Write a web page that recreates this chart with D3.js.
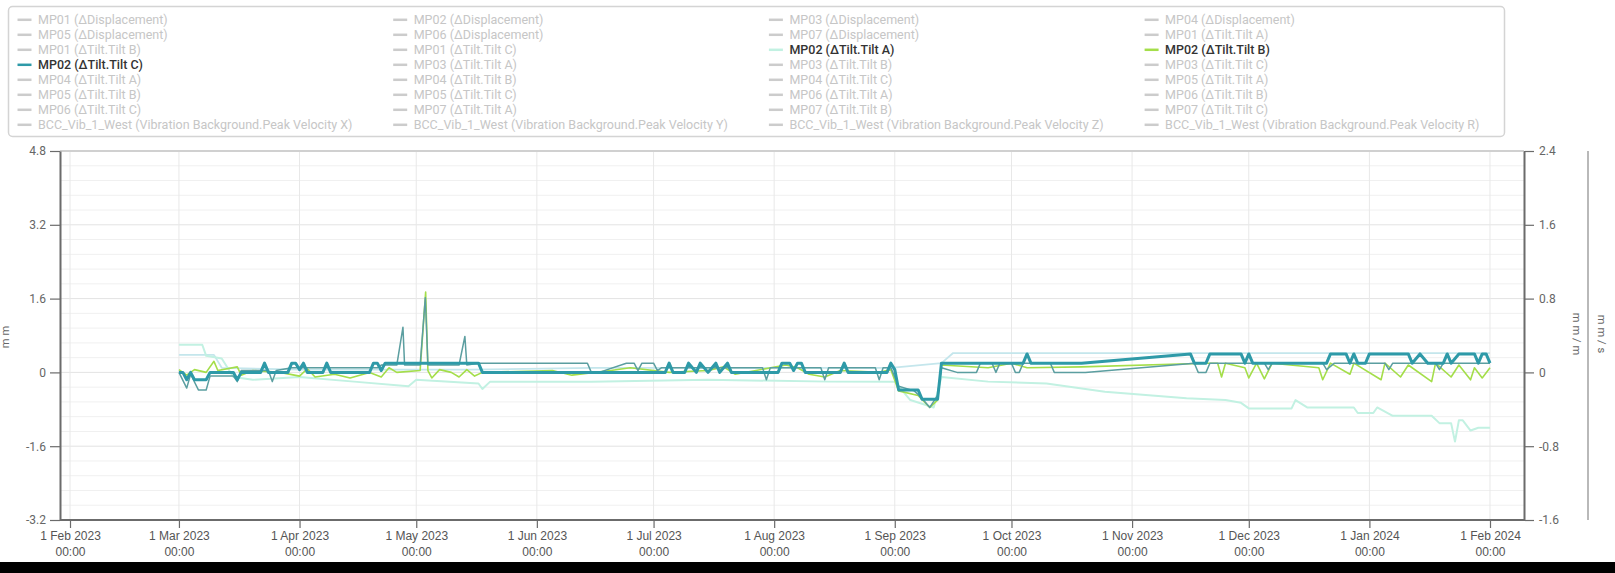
<!DOCTYPE html>
<html><head><meta charset="utf-8">
<script src="https://cdn.jsdelivr.net/npm/d3@7"></script>
<style>body{margin:0;background:#fff;} svg{display:block;font-family:Roboto, "Noto Sans", sans-serif;}</style>
</head><body><svg id="c" width="1615" height="573"></svg>
<script>
// ---------- DATA ----------
const legendItems = [
 "MP01 (ΔDisplacement)","MP02 (ΔDisplacement)","MP03 (ΔDisplacement)","MP04 (ΔDisplacement)",
 "MP05 (ΔDisplacement)","MP06 (ΔDisplacement)","MP07 (ΔDisplacement)","MP01 (ΔTilt.Tilt A)",
 "MP01 (ΔTilt.Tilt B)","MP01 (ΔTilt.Tilt C)","MP02 (ΔTilt.Tilt A)","MP02 (ΔTilt.Tilt B)",
 "MP02 (ΔTilt.Tilt C)","MP03 (ΔTilt.Tilt A)","MP03 (ΔTilt.Tilt B)","MP03 (ΔTilt.Tilt C)",
 "MP04 (ΔTilt.Tilt A)","MP04 (ΔTilt.Tilt B)","MP04 (ΔTilt.Tilt C)","MP05 (ΔTilt.Tilt A)",
 "MP05 (ΔTilt.Tilt B)","MP05 (ΔTilt.Tilt C)","MP06 (ΔTilt.Tilt A)","MP06 (ΔTilt.Tilt B)",
 "MP06 (ΔTilt.Tilt C)","MP07 (ΔTilt.Tilt A)","MP07 (ΔTilt.Tilt B)","MP07 (ΔTilt.Tilt C)",
 "BCC_Vib_1_West (Vibration Background.Peak Velocity X)","BCC_Vib_1_West (Vibration Background.Peak Velocity Y)",
 "BCC_Vib_1_West (Vibration Background.Peak Velocity Z)","BCC_Vib_1_West (Vibration Background.Peak Velocity R)"
];
const activeItems = {"MP02 (ΔTilt.Tilt A)":"#c2f1e2","MP02 (ΔTilt.Tilt B)":"#a4de4a","MP02 (ΔTilt.Tilt C)":"#2e9aa8"};

const leftTicks = [-3.2,-1.6,0,1.6,3.2,4.8];
const rightTicks = [-1.6,-0.8,0,0.8,1.6,2.4];
const monthTicks = ["2023-02-01","2023-03-01","2023-04-01","2023-05-01","2023-06-01","2023-07-01","2023-08-01",
 "2023-09-01","2023-10-01","2023-11-01","2023-12-01","2024-01-01","2024-02-01"];
const monthNames = ["Jan","Feb","Mar","Apr","May","Jun","Jul","Aug","Sep","Oct","Nov","Dec"];

// MP02 Tilt A (mm/m)
const tiltA = [
 ["2023-03-01",0.3],["2023-03-07",0.3],["2023-03-08",0.18],["2023-03-12",0.15],["2023-03-15",-0.05],["2023-03-20",-0.08],
 ["2023-04-01",-0.05],["2023-04-15",-0.1],["2023-04-29",-0.15],["2023-05-01",-0.08],["2023-05-17",-0.12],["2023-05-18",-0.18],
 ["2023-05-20",-0.1],["2023-06-15",-0.1],["2023-07-15",-0.08],["2023-08-15",-0.1],["2023-09-01",-0.1],["2023-09-05",-0.3],
 ["2023-09-11",-0.38],["2023-09-13",-0.05],["2023-09-25",-0.1],["2023-10-10",-0.12],["2023-10-25",-0.21],["2023-11-15",-0.28],
 ["2023-11-25",-0.3],["2023-11-29",-0.33],["2023-12-01",-0.39],["2023-12-12",-0.39],["2023-12-13",-0.3],["2023-12-16",-0.38],
 ["2023-12-28",-0.38],["2023-12-29",-0.44],["2024-01-02",-0.44],["2024-01-03",-0.38],["2024-01-07",-0.47],["2024-01-17",-0.47],
 ["2024-01-19",-0.55],["2024-01-22",-0.55],["2024-01-23",-0.75],["2024-01-24",-0.52],["2024-01-25",-0.52],["2024-01-27",-0.63],
 ["2024-01-29",-0.6],["2024-02-01",-0.6]
];
// secondary pale trace
const tiltAUpper = [
 ["2023-03-01",0.19],["2023-03-10",0.19],["2023-03-12",0.05],["2023-04-01",0.03],["2023-05-15",0.03],["2023-06-15",0.05],
 ["2023-08-31",0.05],["2023-09-13",0.1],["2023-09-16",0.21],["2024-02-01",0.21]
];
// MP02 Tilt B (mm/m)
const tiltB = [
 ["2023-03-01",0.03],["2023-03-03",-0.03],["2023-03-05",0.03],["2023-03-08",0],["2023-03-10",0.12],["2023-03-11",0.02],
 ["2023-03-16",0.06],["2023-03-17",-0.03],["2023-03-20",0.02],["2023-03-27",0],["2023-04-01",-0.04],["2023-04-03",0.04],
 ["2023-04-05",-0.05],["2023-04-10",-0.02],["2023-04-14",-0.06],["2023-04-19",0],["2023-04-22",-0.05],["2023-04-24",0.05],
 ["2023-04-26",0],["2023-05-02",0.02],["2023-05-03T10",0.87],["2023-05-04",0.02],["2023-05-05",-0.06],["2023-05-07",0.03],
 ["2023-05-10",0],["2023-05-12",-0.05],["2023-05-14",0.03],["2023-05-16",-0.04],["2023-05-18",0],["2023-06-05",0.02],
 ["2023-06-10",-0.03],["2023-06-20",0.02],["2023-06-25",0.05],["2023-07-05",0],["2023-07-15",0.02],["2023-07-19",0.06],
 ["2023-07-22",-0.02],["2023-08-04",0.08],["2023-08-07",0.05],["2023-08-10",-0.02],["2023-08-14",-0.05],["2023-08-18",0.02],
 ["2023-08-28",0],["2023-08-31",0.03],["2023-09-02",-0.2],["2023-09-07",-0.25],["2023-09-10",-0.38],["2023-09-12",-0.3],
 ["2023-09-13",0.08],["2023-09-25",0.05],["2023-10-01",0.1],["2023-10-05",0.05],["2023-10-19",0.06],["2023-11-20",0.1],
 ["2023-11-23",0.1],["2023-11-24",-0.05],["2023-11-25",0.1],["2023-11-30",0.05],["2023-12-01",-0.06],["2023-12-03",0.1],
 ["2023-12-05",-0.07],["2023-12-07",0.1],["2023-12-19",0.05],["2023-12-20",-0.08],["2023-12-22",0.1],["2023-12-27",-0.02],
 ["2023-12-28",0.1],["2024-01-04",-0.08],["2024-01-05",0.1],["2024-01-09",-0.05],["2024-01-11",0.08],["2024-01-17",-0.1],
 ["2024-01-18",0.1],["2024-01-22",-0.05],["2024-01-24",0.08],["2024-01-27",-0.08],["2024-01-28",0.05],["2024-01-30",-0.06],
 ["2024-02-01",0.05]
];
// thin companion trace of Tilt C
const tiltCRaw = [
 ["2023-03-01",0],["2023-03-03",-0.17],["2023-03-04",-0.02],["2023-03-06",-0.19],["2023-03-08",-0.19],["2023-03-09",-0.04],
 ["2023-03-15",-0.04],["2023-03-16",-0.1],["2023-03-17",0.02],["2023-03-24",0.02],["2023-03-25",-0.1],["2023-03-26",0.02],
 ["2023-03-30",0.05],["2023-04-21",0.05],["2023-04-22",0.08],["2023-04-26",0.08],["2023-04-27T14",0.49],["2023-04-28",0.08],
 ["2023-05-02",0.08],["2023-05-03T08",0.81],["2023-05-04",0.08],["2023-05-12",0.08],["2023-05-13T12",0.39],["2023-05-14",0.08],
 ["2023-05-17",0.1],["2023-06-14",0.1],["2023-06-15",0],["2023-06-17",0],["2023-06-24",0.1],["2023-06-26",0.1],
 ["2023-06-27",0.02],["2023-06-28",0.1],["2023-07-01",0.1],["2023-07-02",0.02],["2023-07-03",0.05],["2023-07-29",0.05],
 ["2023-07-30",-0.08],["2023-07-31",0.05],["2023-08-13",0.05],["2023-08-14",-0.08],["2023-08-15",0.05],["2023-08-27",0.05],
 ["2023-08-28",-0.08],["2023-08-29",0.05],["2023-08-31",0.05],["2023-09-02",-0.15],["2023-09-06",-0.2],["2023-09-08",-0.28],
 ["2023-09-10",-0.38],["2023-09-12",-0.25],["2023-09-13",0.05],["2023-09-17",0],["2023-09-22",0],["2023-09-23",0.1],
 ["2023-09-26",0.1],["2023-09-27",0],["2023-09-28",0.1],["2023-10-01",0.1],["2023-10-02",0],["2023-10-03",0],
 ["2023-10-04",0.1],["2023-10-11",0.1],["2023-10-12",0],["2023-10-20",0],["2023-11-17",0.1],["2023-11-18",0],
 ["2023-11-20",0],["2023-11-21",0.1],["2023-12-05",0.1],["2023-12-06",0.03],["2023-12-07",0.1],["2023-12-20",0.1],
 ["2023-12-21",0.03],["2023-12-23",0.1],["2024-01-05",0.1],["2024-01-06",0.03],["2024-01-07",0.1],["2024-01-18",0.1],
 ["2024-01-19",0.03],["2024-01-20",0.1],["2024-02-01",0.1]
];
// MP02 Tilt C (mm/m)
const tiltC = [
 ["2023-03-01",0],["2023-03-02",0],["2023-03-03",-0.08],["2023-03-04",0],["2023-03-05",-0.08],["2023-03-08",-0.08],["2023-03-09",0],
 ["2023-03-15",0],["2023-03-16",-0.08],["2023-03-17",0],["2023-03-22",0],["2023-03-23",0.1],["2023-03-24",0],
 ["2023-03-29",0],["2023-03-30",0.1],["2023-03-31",0.1],["2023-04-01",0.03],["2023-04-02",0.1],["2023-04-03",0],
 ["2023-04-07",0],["2023-04-08",0.1],["2023-04-09",0],["2023-04-19",0],["2023-04-20",0.1],["2023-04-21",0.1],["2023-04-22",0.02],
 ["2023-04-23",0.1],["2023-05-17",0.1],["2023-05-18",0],
 ["2023-07-04",0],["2023-07-05",0.1],["2023-07-06",0],["2023-07-09",0],["2023-07-10",0.1],["2023-07-12",0],["2023-07-13",0.1],
 ["2023-07-15",0],["2023-07-17",0.1],["2023-07-18",0],["2023-07-20",0.1],["2023-07-21",0],
 ["2023-08-02",0],["2023-08-03",0.1],["2023-08-05",0.1],["2023-08-06",0.02],["2023-08-07",0.1],["2023-08-08",0.1],["2023-08-09",0],
 ["2023-08-18",0],["2023-08-19",0.1],["2023-08-20",0],["2023-08-30",0],["2023-08-31",0.1],["2023-09-01",0.03],["2023-09-02",-0.19],
 ["2023-09-07",-0.19],["2023-09-08",-0.29],["2023-09-12",-0.29],["2023-09-13",0.1],
 ["2023-10-04",0.1],["2023-10-05",0.2],["2023-10-06",0.1],["2023-10-19",0.1],["2023-11-16",0.2],["2023-11-17",0.1],["2023-11-20",0.1],
 ["2023-11-21",0.2],["2023-11-29",0.2],["2023-11-30",0.1],["2023-12-01",0.2],["2023-12-02",0.1],["2023-12-21",0.1],["2023-12-22",0.2],
 ["2023-12-26",0.2],["2023-12-27",0.1],["2023-12-28",0.2],["2023-12-29",0.1],["2023-12-31",0.1],["2024-01-01",0.2],["2024-01-11",0.2],
 ["2024-01-12",0.1],["2024-01-14",0.2],["2024-01-16",0.1],["2024-01-20",0.1],["2024-01-21",0.2],["2024-01-22",0.1],["2024-01-24",0.2],
 ["2024-01-28",0.2],["2024-01-29",0.1],["2024-01-30",0.2],["2024-01-31",0.2],["2024-02-01",0.1]
];

// ---------- CHART ----------
const parse = s => new Date(s.length === 10 ? s + "T00:00:00Z" : s + ":00:00Z");
const svg = d3.select("#c");
const W = 1615;
const plot = {l: 60, r: 1524, t: 151, b: 520};

const x = d3.scaleUtc()
  .domain([new Date(Date.UTC(2023,0,29,10,17)), new Date(Date.UTC(2024,1,9,17,45))])
  .range([plot.l, plot.r]);
const yL = d3.scaleLinear().domain([-3.2, 4.8]).range([plot.b, plot.t]);
const yR = d3.scaleLinear().domain([-1.6, 2.4]).range([plot.b, plot.t]);

// legend
const lg = svg.append("g");
lg.append("rect").attr("x", 8.5).attr("y", 6.5).attr("width", 1496).attr("height", 130).attr("rx", 4)
  .attr("fill", "#fff").attr("stroke", "#d4d4d4").attr("stroke-width", 1.5);
legendItems.forEach((name, i) => {
  const col = i % 4, row = Math.floor(i / 4);
  const cy = 19.8 + row * 15.0;
  const x0 = 17.5 + col * 375.7;
  const active = activeItems[name];
  lg.append("line").attr("x1", x0).attr("x2", x0 + 14).attr("y1", cy).attr("y2", cy)
    .attr("stroke", active || "#cccccc").attr("stroke-width", 2.5);
  lg.append("text").attr("x", x0 + 20.5).attr("y", cy + 4.2).text(name)
    .attr("font-size", 12.5).attr("font-weight", active ? 500 : 400)
    .attr("fill", active ? "#333" : "#c6c6c6");
});

// grid
const g = svg.append("g");
const minor = [];
for (let i = 0; i < leftTicks.length - 1; i++) {
  const step = (leftTicks[i+1] - leftTicks[i]) / 5;
  for (let k = 1; k < 5; k++) minor.push(leftTicks[i] + step * k);
}
g.selectAll(".mg").data(minor).join("line")
  .attr("x1", plot.l).attr("x2", plot.r).attr("y1", d => yL(d)).attr("y2", d => yL(d))
  .attr("stroke", "#f0f0f0").attr("stroke-width", 1);
g.selectAll(".Mg").data(leftTicks).join("line")
  .attr("x1", plot.l).attr("x2", plot.r).attr("y1", d => yL(d)).attr("y2", d => yL(d))
  .attr("stroke", "#e3e3e3").attr("stroke-width", 1);
const months = monthTicks.map(parse);
g.selectAll(".vg").data(months).join("line")
  .attr("x1", d => x(d)).attr("x2", d => x(d)).attr("y1", plot.t).attr("y2", plot.b)
  .attr("stroke", "#e8e8e8").attr("stroke-width", 1);
// top border
g.append("line").attr("x1", plot.l).attr("x2", plot.r).attr("y1", plot.t).attr("y2", plot.t)
  .attr("stroke", "#d0d0d0").attr("stroke-width", 2);

// series
const line = d3.line().x(d => x(parse(d[0]))).y(d => yR(d[1]));
const series = [
  {data: tiltAUpper, color: "#c4e6ec", w: 1.8},
  {data: tiltA, color: "#c2f1e2", w: 2},
  {data: tiltB, color: "#a4de4a", w: 1.6},
  {data: tiltCRaw, color: "#5b9ea0", w: 1.5},
  {data: tiltC, color: "#2e9aa8", w: 3}
];
const sg = svg.append("g");
series.forEach(s => {
  sg.append("path").attr("d", line(s.data)).attr("fill", "none")
    .attr("stroke", s.color).attr("stroke-width", s.w).attr("stroke-linejoin", "round");
});

// axes
const axisColor = "#6b6b6b";
const styleAxis = (sel) => {
  sel.select(".domain").attr("stroke", axisColor).attr("stroke-width", 2);
  sel.selectAll(".tick line").attr("stroke", axisColor).attr("stroke-width", 1.2);
  sel.selectAll(".tick text").attr("fill", "#666").attr("font-size", 12).attr("font-family", "Roboto, sans-serif");
};
const axL = svg.append("g").attr("transform", `translate(${plot.l},0)`)
  .call(d3.axisLeft(yL).tickValues(leftTicks).tickFormat(d => String(d)).tickSize(10).tickSizeOuter(0).tickPadding(4));
styleAxis(axL);
const axR = svg.append("g").attr("transform", `translate(${plot.r},0)`)
  .call(d3.axisRight(yR).tickValues(rightTicks).tickFormat(d => String(d)).tickSize(10).tickSizeOuter(0).tickPadding(5));
styleAxis(axR);
const axB = svg.append("g").attr("transform", `translate(0,${plot.b})`)
  .call(d3.axisBottom(x).tickValues(months).tickSize(8).tickSizeOuter(0).tickPadding(3).tickFormat(""));
styleAxis(axB);
axB.selectAll(".tick").each(function(d) {
  const t = d3.select(this).append("text").attr("fill", "#555").attr("font-size", 12)
    .attr("text-anchor", "middle").attr("y", 20);
  t.append("tspan").attr("x", 0).attr("dy", 0)
    .text(`${d.getUTCDate()} ${monthNames[d.getUTCMonth()]} ${d.getUTCFullYear()}`);
  t.append("tspan").attr("x", 0).attr("dy", 16).text("00:00");
});
axB.select(".domain").attr("d", `M${plot.l},0H${plot.r}`);

// second right axis (mm/s)
svg.append("line").attr("x1", 1588).attr("x2", 1588).attr("y1", plot.t).attr("y2", plot.b)
  .attr("stroke", "#8a8a8a").attr("stroke-width", 1.2);

// axis titles
const midY = (plot.t + plot.b) / 2;
svg.append("text").attr("transform", `translate(9,${midY}) rotate(-90)`).attr("text-anchor", "middle")
  .attr("font-size", 11).attr("fill", "#666").attr("letter-spacing", 3).text("mm");
svg.append("text").attr("transform", `translate(1573,${midY}) rotate(90)`).attr("text-anchor", "middle")
  .attr("font-size", 11).attr("fill", "#666").attr("letter-spacing", 3).text("mm/m");
svg.append("text").attr("transform", `translate(1598,${midY}) rotate(90)`).attr("text-anchor", "middle")
  .attr("font-size", 11).attr("fill", "#666").attr("letter-spacing", 3).text("mm/s");

// bottom bar
svg.append("rect").attr("x", 0).attr("y", 562).attr("width", W).attr("height", 11).attr("fill", "#000");
</script></body></html>
